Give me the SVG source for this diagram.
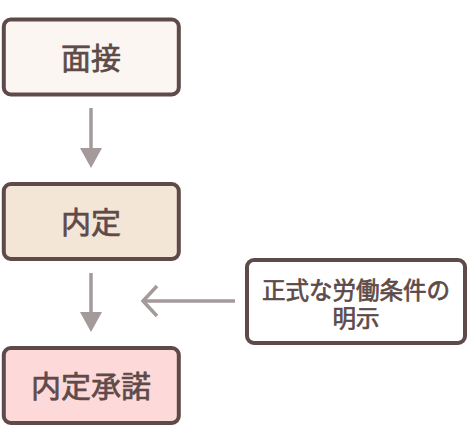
<svg xmlns="http://www.w3.org/2000/svg" width="469" height="441" viewBox="0 0 469 441">
<defs>
<style>
.box{stroke:#5e4b49;stroke-width:4}
.lbl{font-family:"Noto Sans CJK JP","Noto Sans CJK SC",sans-serif;fill:#5e4b49;stroke:#5e4b49;stroke-width:0.7;text-anchor:middle;font-weight:normal}
.conn{stroke:#a49a9a;stroke-width:3.5;fill:none}
</style>
</defs>
<rect width="469" height="441" fill="#ffffff"/>
<g id="connectors">
<line class="conn" x1="91" y1="108" x2="91" y2="148"/>
<path d="M80,148 L102,148 L91,168 Z" fill="#a49a9a"/>
<line class="conn" x1="91" y1="273" x2="91" y2="312"/>
<path d="M80,312 L102,312 L91,332 Z" fill="#a49a9a"/>
<line class="conn" x1="235" y1="301" x2="144" y2="301"/>
<polyline class="conn" points="157,286 143,301 157,316"/>
</g>
<g id="node-mensetsu">
<rect class="box" x="3.8" y="19.5" width="175" height="75" rx="7" fill="#fcf6f2"/>
<text class="lbl" x="91" y="69" font-size="30">面接</text>
</g>
<g id="node-naitei">
<rect class="box" x="3.8" y="184" width="175" height="75" rx="7" fill="#f4e6d6"/>
<text class="lbl" x="91" y="233" font-size="30">内定</text>
</g>
<g id="node-shodaku">
<rect class="box" x="3.8" y="348" width="175" height="75" rx="7" fill="#fddad9"/>
<text class="lbl" x="91" y="397" font-size="30">内定承諾</text>
</g>
<g id="node-meiji">
<rect class="box" x="247" y="260" width="218" height="83" rx="7" fill="#ffffff"/>
<text class="lbl" x="356" y="299" font-size="23.5">正式な労働条件の</text>
<text class="lbl" x="356" y="327" font-size="23.5">明示</text>
</g>
</svg>
